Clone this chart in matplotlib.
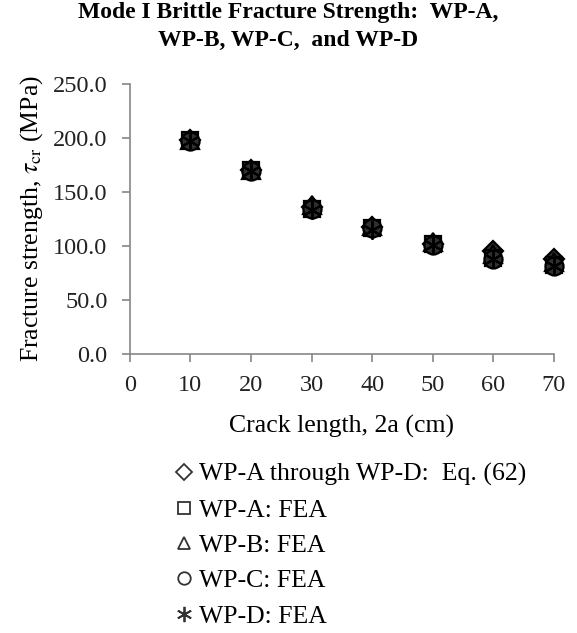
import matplotlib
matplotlib.use("Agg")
import matplotlib.pyplot as plt

plt.rcParams['font.family'] = ['Liberation Serif', 'DejaVu Serif']
plt.rcParams['mathtext.fontset'] = 'stix'

# crack length 2a (cm)
crack = [10, 20, 30, 40, 50, 60, 70]
# fracture strength (MPa)
eq62 = [198, 170, 136, 117, 102, 95, 88]
wp_a = [198, 170, 134, 116, 102, 89, 82]
wp_b = [198, 170, 138, 118, 103, 92, 85]
wp_c = [197, 169, 134, 116, 101, 88, 81]
wp_d = [197, 169, 133, 115, 101, 88, 81]

labels = ["WP-A through WP-D:  Eq. (62)", "WP-A: FEA", "WP-B: FEA",
          "WP-C: FEA", "WP-D: FEA"]
xticks = [0, 10, 20, 30, 40, 50, 60, 70]
yticks = [0, 50, 100, 150, 200, 250]

fig = plt.figure(figsize=(5.77, 6.33), dpi=100)
ax = fig.add_axes([0.225, 0.441, 0.735, 0.427])

series = [eq62, wp_a, wp_b, wp_c, wp_d]
markers = ['D', 's', '^', 'o', (6, 2, 0)]
sizes = [10, 12, 13, 13, 13]
for vals, m, ms, lab in zip(series, markers, sizes, labels):
    ax.plot(crack, vals, linestyle='none', marker=m, markersize=ms,
            markerfacecolor='#303030', markeredgecolor='black',
            markeredgewidth=1.6, label=lab, clip_on=False)

ax.set_xlim(0, 70)
ax.set_ylim(0, 250)
ax.set_xticks(xticks)
ax.set_yticks(yticks)
ax.set_yticklabels(["%.1f" % v for v in yticks])
for s in ['top', 'right']:
    ax.spines[s].set_visible(False)
for s in ['left', 'bottom']:
    ax.spines[s].set_color('#868686')
    ax.spines[s].set_linewidth(1.2)
ax.tick_params(direction='out', length=6, width=1.2, color='#868686',
               labelsize=17.5, labelcolor='#222222')
ax.tick_params(axis='y', pad=10)
ax.tick_params(axis='x', pad=9)
ax.set_xlabel("Crack length, 2a (cm)", fontsize=18.5, labelpad=14)
ax.set_ylabel(r"Fracture strength, $\tau_{\mathrm{cr}}$ (MPa)", fontsize=18.5,
              labelpad=6)

fig.text(0.5, 0.997, "Mode I Brittle Fracture Strength:  WP-A,\nWP-B, WP-C,  and WP-D",
         ha='center', va='top', fontsize=17, fontweight='bold',
         linespacing=1.45)

# legend handles drawn hollow
leg_handles = []
for m, ms in zip(markers, [8, 9, 9, 9, 11]):
    lh, = ax.plot([], [], linestyle='none', marker=m, markersize=ms,
                  markerfacecolor='none', markeredgecolor='#333333',
                  markeredgewidth=1.3)
    leg_handles.append(lh)
fig.legend(leg_handles, labels, loc='upper left',
           bbox_to_anchor=(0.287, 0.285), frameon=False, fontsize=18.5,
           handlelength=0.6, handletextpad=0.3, labelspacing=0.48,
           borderaxespad=0)

fig.savefig("out.png", dpi=100)
